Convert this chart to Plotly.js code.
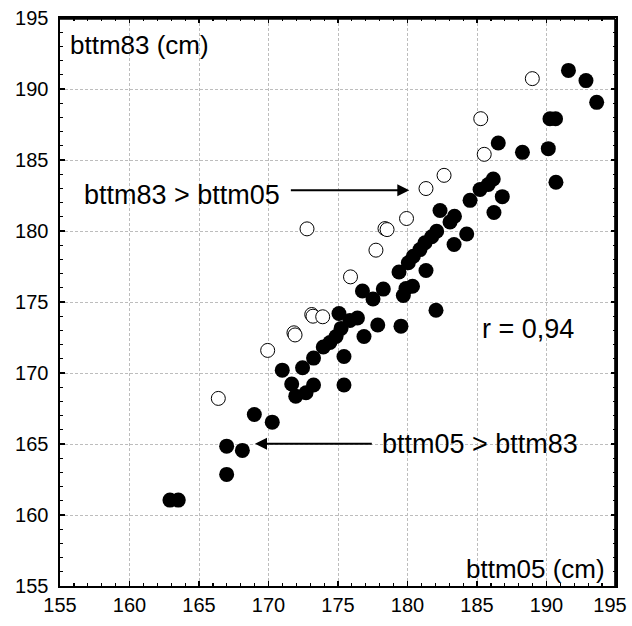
<!DOCTYPE html>
<html>
<head>
<meta charset="utf-8">
<script src="https://cdn.plot.ly/plotly-3.0.1.min.js"></script>
<style>html,body{margin:0;padding:0;background:#fff;}#chart{width:632px;height:626px;}</style>
</head>
<body>
<div id="chart"></div>
<script>
// bttm05 >= bttm83 (filled)
const filledX = [162.91,163.51,166.99,166.99,168.12,168.98,170.27,170.99,171.67,171.96,
  172.45,172.70,173.24,173.24,173.94,174.42,174.86,175.22,175.07,175.86,
  176.40,175.43,175.43,176.87,177.86,179.53,176.76,177.52,178.26,179.70,
  179.89,180.36,179.39,181.33,180.06,180.42,180.90,181.26,181.74,182.10,
  182.34,183.38,183.06,184.26,183.35,182.05,184.50,185.22,185.81,186.17,
  186.82,186.22,186.53,188.27,190.13,190.68,190.25,190.65,191.58,192.84,193.61];
const filledY = [161.05,161.05,162.86,164.85,164.55,167.08,166.54,170.20,169.23,168.37,
  170.37,168.61,169.16,171.05,171.83,172.15,172.57,173.14,174.19,173.70,
  173.87,171.16,169.16,172.57,173.38,173.30,175.77,175.21,175.91,175.46,
  175.95,176.11,177.11,177.22,177.76,178.22,178.69,179.17,179.59,179.98,
  181.44,181.04,180.63,179.79,179.05,174.42,182.16,182.92,183.27,183.66,
  182.42,181.30,186.20,185.54,185.80,183.43,187.91,187.91,191.31,190.59,189.06];
// bttm83 > bttm05 (open)
const openX = [166.39,169.94,171.83,171.91,173.11,173.20,173.90,175.90,177.73,178.38,
  178.53,179.93,181.33,182.63,185.52,185.27,188.98,172.77];
const openY = [168.21,171.59,172.83,172.68,174.12,174.00,173.96,176.77,178.65,180.17,
  180.10,180.88,182.99,183.92,185.40,187.91,190.73,180.15];
const xTicks = [155,160,165,170,175,180,185,190,195];
const yTicks = [155,160,165,170,175,180,185,190,195];
const labels = {x: 'bttm05 (cm)', y: 'bttm83 (cm)', up: 'bttm83 > bttm05', down: 'bttm05 > bttm83', r: 'r = 0,94'};

const font = 'Liberation Sans, Arial, sans-serif';
const traces = [
  {x: openX, y: openY, type: 'scatter', mode: 'markers',
   marker: {size: 14, color: '#ffffff', line: {color: '#000000', width: 1}}, hoverinfo: 'skip'},
  {x: filledX, y: filledY, type: 'scatter', mode: 'markers',
   marker: {size: 15, color: '#000000', line: {width: 0}}, hoverinfo: 'skip'}
];
const axisBase = {
  range: [155, 195], autorange: false, showline: true, linewidth: 2, linecolor: '#000', mirror: 'ticks',
  ticks: 'inside', ticklen: 5, tickwidth: 1.5, tickcolor: '#000',
  showgrid: true, gridcolor: '#bdbdbd', gridwidth: 1, griddash: '3px,2px', zeroline: false,
  tickfont: {family: font, size: 20, color: '#000'}, ticklabeloverflow: 'allow',
  minor: {dtick: 1, ticks: 'inside', ticklen: 3, tickwidth: 1.2, tickcolor: '#000', showgrid: false}
};
const annFont = {family: font, size: 27, color: '#000'};
const titleFont = {family: font, size: 26, color: '#000'};
const lastX = xTicks.length - 1;
const layout = {
  width: 632, height: 626, paper_bgcolor: '#fff', plot_bgcolor: '#fff',
  margin: {l: 60, r: 16, t: 18, b: 40}, showlegend: false,
  xaxis: Object.assign({}, axisBase, {tickvals: xTicks, ticktext: xTicks.map((v, i) => i === lastX ? v + '\u2009\u2009\u2009' : String(v))}),
  yaxis: Object.assign({}, axisBase, {tickvals: yTicks, ticktext: yTicks.map(v => v + '\u00a0')}),
  shapes: [
    {type: 'line', xref: 'paper', yref: 'paper', x0: 0, x1: 0.9985, y0: 0.9985, y1: 0.9985,
     line: {color: '#000000', width: 2}, layer: 'above'},
    {type: 'line', xref: 'paper', yref: 'paper', x0: 0.9985, x1: 0.9985, y0: 0, y1: 0.9985,
     line: {color: '#000000', width: 2}, layer: 'above'}
  ],
  annotations: [
    {x: 155.58, y: 193.12, xref: 'x', yref: 'y', text: labels.y, showarrow: false, xanchor: 'left', yanchor: 'middle', font: titleFont},
    {x: 194.35, y: 156.18, xref: 'x', yref: 'y', text: labels.x, showarrow: false, xanchor: 'right', yanchor: 'middle', font: titleFont},
    {x: 156.6, y: 182.56, xref: 'x', yref: 'y', text: labels.up, showarrow: false, xanchor: 'left', yanchor: 'middle', font: annFont},
    {x: 185.25, y: 165.02, xref: 'x', yref: 'y', text: labels.down, showarrow: false, xanchor: 'center', yanchor: 'middle', font: annFont},
    {x: 188.7, y: 173.07, xref: 'x', yref: 'y', text: labels.r, showarrow: false, xanchor: 'center', yanchor: 'middle', font: annFont},
    {x: 180.13, y: 182.87, xref: 'x', yref: 'y', ax: 171.5, ay: 182.87, axref: 'x', ayref: 'y', text: '', showarrow: true, arrowhead: 2, arrowsize: 1.2, arrowwidth: 2, arrowcolor: '#000', standoff: 0, startstandoff: 0},
    {x: 169.03, y: 165.02, xref: 'x', yref: 'y', ax: 177.54, ay: 165.02, axref: 'x', ayref: 'y', text: '', showarrow: true, arrowhead: 2, arrowsize: 1.2, arrowwidth: 2, arrowcolor: '#000', standoff: 0, startstandoff: 0}
  ]
};
Plotly.newPlot('chart', traces, layout, {staticPlot: true, displayModeBar: false});
</script>
</body>
</html>
